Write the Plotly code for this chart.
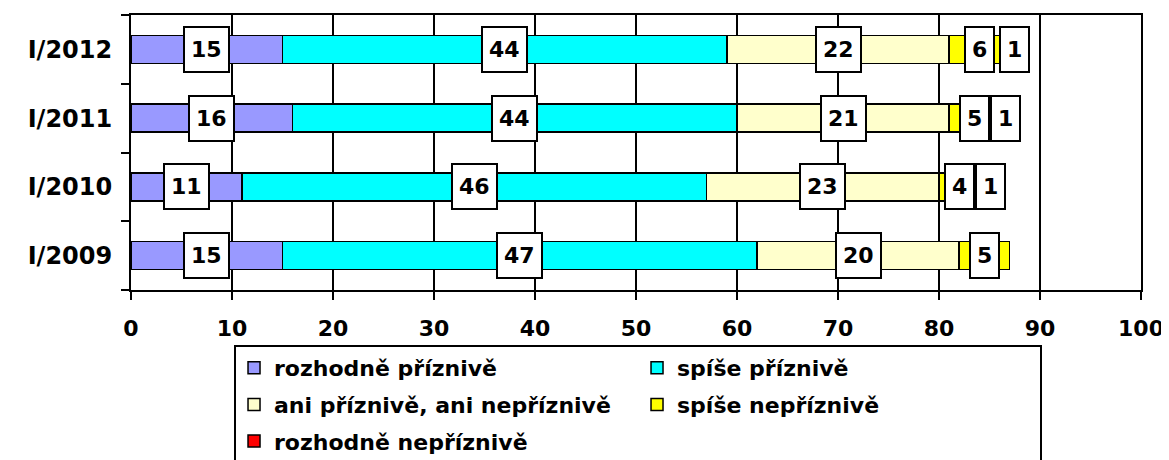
import plotly.graph_objects as go

# ---- data ----
categories = ["I/2009", "I/2010", "I/2011", "I/2012"]
series_names = [
    "rozhodně příznivě",
    "spíše příznivě",
    "ani příznivě, ani nepříznivě",
    "spíše nepříznivě",
    "rozhodně nepříznivě",
]
rozhodne_priznive = [15, 11, 16, 15]
spise_priznive = [47, 46, 44, 44]
ani_ani = [20, 23, 21, 22]
spise_nepriznive = [5, 4, 5, 6]
rozhodne_nepriznive = [0, 1, 1, 1]
x_tick_values = [0, 10, 20, 30, 40, 50, 60, 70, 80, 90, 100]

series_values = [rozhodne_priznive, spise_priznive, ani_ani, spise_nepriznive, rozhodne_nepriznive]
colors = ["#9999FF", "#00FFFF", "#FFFFCC", "#FFFF00", "#FF0000"]

FONT = "Verdana, DejaVu Sans, sans-serif"
# page body has an 8px margin, so the figure is sized to the remaining window
W, H = 1161, 452
ML, MR, MT, MB = 123, 28, 7, 170
plot_w = W - ML - MR
px_per_unit = plot_w / 100.0

fig = go.Figure()
for k, (name, vals, col) in enumerate(zip(series_names, series_values, colors)):
    fig.add_trace(go.Bar(
        y=categories, x=vals, name=name, orientation="h",
        legendgroup="g%d" % k,
        marker=dict(color=col, line=dict(color="black", width=1.5)),
        hoverinfo="x+y+name",
    ))

# value labels in white boxes, centred on each segment
annotations = []
cum = [0.0] * len(categories)
prev_right = [None] * len(categories)
for vals in series_values:
    for i, v in enumerate(vals):
        if v > 0:
            center = cum[i] + v / 2.0
            txt = str(v)
            wpx = 15.3 * len(txt) + 16
            cpx = center * px_per_unit
            shift = 0
            if prev_right[i] is not None and cpx - wpx / 2 < prev_right[i]:
                shift = prev_right[i] - (cpx - wpx / 2)
            prev_right[i] = cpx + shift + wpx / 2
            annotations.append(dict(
                x=center, y=categories[i], xref="x", yref="y",
                text=txt, showarrow=False, xshift=shift, height=31,
                font=dict(family=FONT, size=22, color="black", weight="bold"),
                bgcolor="white", bordercolor="black", borderwidth=2, borderpad=6,
            ))
        cum[i] += v

fig.update_layout(
    width=W, height=H,
    margin=dict(l=ML, r=MR, t=MT, b=MB, autoexpand=False),
    barmode="stack", bargap=0.59,
    paper_bgcolor="white", plot_bgcolor="white",
    annotations=annotations,
    font=dict(family=FONT, size=22, color="black", weight="bold"),
    xaxis=dict(
        range=[0, 100], tickvals=x_tick_values, ticktext=[str(t) for t in x_tick_values],
        showgrid=True, gridcolor="black", gridwidth=1.5,
        showline=True, linecolor="black", linewidth=2, mirror=True,
        ticks="outside", ticklen=8, tickwidth=1.5, tickcolor="black",
        ticklabelstandoff=10, zeroline=False,
        tickfont=dict(family=FONT, size=22, color="black", weight="bold"),
    ),
    yaxis=dict(
        categoryorder="array", categoryarray=categories,
        showline=True, linecolor="black", linewidth=2, mirror=True,
        ticks="outside", tickson="boundaries", ticklen=8, tickwidth=1.5, tickcolor="black",
        ticklabelstandoff=12, showgrid=False,
        tickfont=dict(family=FONT, size=24, color="black", weight="bold"),
    ),
    legend=dict(
        orientation="h", x=0.102, xanchor="left", y=-0.2, yanchor="top",
        traceorder="grouped", entrywidth=358, tracegroupgap=5,
        bordercolor="black", borderwidth=2, bgcolor="white",
        font=dict(family=FONT, size=22, color="black", weight="bold"),
    ),
)

fig.write_html("out.html")
